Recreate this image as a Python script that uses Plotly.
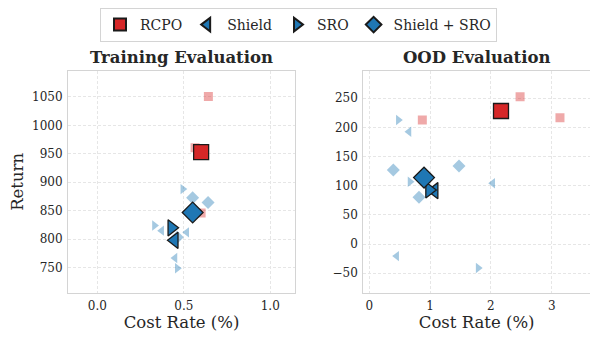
import plotly.graph_objects as go

# ---------------- data ----------------
methods = ["RCPO", "Shield", "SRO", "Shield + SRO"]

# Training evaluation: per-seed points (cost rate %, return)
train_seed_cost = {
    "RCPO": [0.642, 0.565, 0.600],
    "Shield": [0.372, 0.517, 0.449],
    "SRO": [0.494, 0.330, 0.462],
    "Shield + SRO": [0.551, 0.640, 0.462],
}
train_seed_return = {
    "RCPO": [1050.5, 960.5, 846.0],
    "Shield": [815.0, 812.0, 767.0],
    "SRO": [888.0, 824.0, 749.0],
    "Shield + SRO": [873.0, 864.6, 803.4],
}
train_mean_cost = [0.600, 0.446, 0.429, 0.551]
train_mean_return = [952.8, 798.0, 820.0, 847.0]

# OOD evaluation
ood_seed_cost = {
    "RCPO": [2.48, 3.136, 0.872],
    "Shield": [0.653, 2.03, 0.45],
    "SRO": [0.477, 0.669, 1.79],
    "Shield + SRO": [0.395, 1.475, 0.817],
}
ood_seed_return = {
    "RCPO": [252.7, 216.7, 212.8],
    "Shield": [192.7, 104.3, -20.5],
    "SRO": [212.8, 107.0, -41.0],
    "Shield + SRO": [127.1, 134.0, 80.3],
}
ood_mean_cost = [2.166, 1.07, 0.987, 0.90]
ood_mean_return = [228.2, 91.6, 92.8, 114.0]

train_xticks = [0.0, 0.5, 1.0]
train_yticks = [750, 800, 850, 900, 950, 1000, 1050]
ood_xticks = [0, 1, 2, 3]
ood_yticks = [-50, 0, 50, 100, 150, 200, 250]

# ---------------- style ----------------
colors = {"RCPO": "#d62728", "Shield": "#1f77b4", "SRO": "#1f77b4", "Shield + SRO": "#1f77b4"}
pale = {"RCPO": "rgba(214,39,40,0.4)", "Shield": "rgba(31,119,180,0.4)",
        "SRO": "rgba(31,119,180,0.4)", "Shield + SRO": "rgba(31,119,180,0.4)"}
symbols = {"RCPO": "square", "Shield": "triangle-left", "SRO": "triangle-right", "Shield + SRO": "diamond"}
big_size = {"RCPO": 15, "Shield": 14, "SRO": 14, "Shield + SRO": 16}
small_size = {"RCPO": 9, "Shield": 9, "SRO": 9, "Shield + SRO": 10}

FONT = "DejaVu Serif"
fig = go.Figure()

panels = [
    ("x", "y", train_seed_cost, train_seed_return, train_mean_cost, train_mean_return, True),
    ("x2", "y2", ood_seed_cost, ood_seed_return, ood_mean_cost, ood_mean_return, False),
]
for xa, ya, sc, sr, mc, mr, show in panels:
    for m in methods:
        fig.add_trace(go.Scatter(
            x=sc[m], y=sr[m], mode="markers", xaxis=xa, yaxis=ya, showlegend=False,
            marker=dict(symbol=symbols[m], size=small_size[m], color=pale[m], line=dict(width=0)),
            hoverinfo="skip"))
    for i, m in enumerate(methods):
        fig.add_trace(go.Scatter(
            x=[mc[i]], y=[mr[i]], mode="markers", xaxis=xa, yaxis=ya, name=m,
            showlegend=show, legendgroup=m,
            marker=dict(symbol=symbols[m], size=big_size[m], color=colors[m],
                        line=dict(width=1.3, color="#1a1a1a"))))

W, H = 598, 342
OFF = 8  # page body margin offset
def px(xp): return (xp - OFF) / W
def py(yp): return 1 - (yp - OFF) / H

axis_common = dict(showline=True, mirror=True, linecolor="#d4d4d4", linewidth=1,
                   showgrid=True, gridcolor="#e6e6e6", griddash="3px,2px", gridwidth=0.8,
                   zeroline=False, ticks="", automargin=False, ticklabelstandoff=2,
                   tickfont=dict(family=FONT, size=12, color="#262626"))

fig.update_layout(
    template="none",
    width=W, height=H, margin=dict(l=0, r=0, t=0, b=0),
    paper_bgcolor="white", plot_bgcolor="white",
    font=dict(family=FONT, color="#262626"),
    xaxis=dict(domain=[px(68), px(295)], range=[-0.17, 1.143], tickvals=train_xticks,
               ticktext=["0.0", "0.5", "1.0"], anchor="y",
               title=dict(text="Cost Rate (%)", font=dict(family=FONT, size=16.5), standoff=2),
               **axis_common),
    yaxis=dict(domain=[py(293), py(70.7)], range=[705.5, 1096], tickvals=train_yticks, anchor="x",
               title=dict(text="Return", font=dict(family=FONT, size=16.5), standoff=8),
               **axis_common),
    xaxis2=dict(domain=[px(363.3), px(590)], range=[-0.099, 3.63], tickvals=ood_xticks, anchor="y2",
                title=dict(text="Cost Rate (%)", font=dict(family=FONT, size=16.5), standoff=2),
                **axis_common),
    yaxis2=dict(domain=[py(293), py(70.7)], range=[-83.8, 297.3], tickvals=ood_yticks, anchor="x2",
                **axis_common),
    legend=dict(orientation="h", x=px(298.5), xanchor="center", y=py(8), yanchor="top",
                bordercolor="#d4d4d4", borderwidth=1, bgcolor="white", tracegroupgap=7,
                font=dict(family=FONT, size=14, color="#262626"), itemsizing="constant"),
    annotations=[
        dict(text="<b>Training Evaluation</b>", x=px(181.5), y=py(58), xref="paper", yref="paper",
             showarrow=False, xanchor="center", yanchor="middle", font=dict(family=FONT, size=16.5)),
        dict(text="<b>OOD Evaluation</b>", x=px(476.7), y=py(58), xref="paper", yref="paper",
             showarrow=False, xanchor="center", yanchor="middle", font=dict(family=FONT, size=16.5)),
    ],
)

fig.write_html("out.html")
